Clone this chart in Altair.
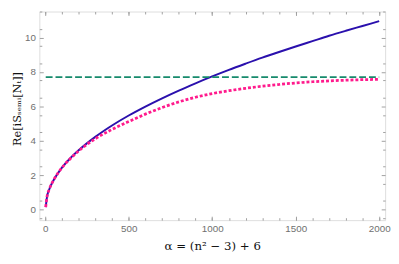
import altair as alt
import pandas as pd

# alpha grid and read-off values
alpha = [3, 10, 25, 50, 100, 150, 200, 300, 400, 500, 600, 700, 800, 900, 1000,
         1100, 1200, 1300, 1400, 1500, 1600, 1700, 1800, 1900, 2000]
blue = [0.15, 0.70, 1.20, 1.71, 2.44, 2.99, 3.45, 4.23, 4.89, 5.47, 5.99, 6.47, 6.92, 7.34, 7.74,
        8.12, 8.48, 8.83, 9.16, 9.48, 9.79, 10.10, 10.39, 10.67, 10.95]
pink = [0.15, 0.70, 1.20, 1.71, 2.43, 2.96, 3.41, 4.12, 4.66, 5.12, 5.55, 5.93, 6.26, 6.53, 6.74,
        6.91, 7.05, 7.17, 7.27, 7.36, 7.43, 7.48, 7.52, 7.55, 7.57]
plateau_alpha = [3, 2000]
plateau = [7.7, 7.7]

x_major = [0, 500, 1000, 1500, 2000]
x_minor = list(range(0, 2001, 100))
y_major = [0, 2, 4, 6, 8, 10]
y_minor = [i * 0.5 for i in range(-1, 24)]

df = pd.DataFrame({"alpha": alpha, "blue": blue, "pink": pink})
dfp = pd.DataFrame({"alpha": plateau_alpha, "v": plateau})

XDOM = [-35.2, 2035.5]
YDOM = [-0.61, 11.51]
FR = "#a0a0a0"
LAB = "#707070"
SERIF = "DejaVu Serif, DejaVu Sans"


def xaxis(orient, values, size, labels, title=None):
    kw = dict(orient=orient, values=values, tickSize=size, offset=-size, domain=False,
              grid=False, labels=labels, tickColor=FR, tickWidth=1, format="d",
              labelFont="Liberation Sans", labelFontSize=10, labelColor=LAB,
              labelPadding=4 if labels else 0)
    if title:
        kw.update(title=title, titleFont=SERIF, titleFontSize=12,
                  titleFontWeight="normal", titleColor="#111", titlePadding=7)
    else:
        kw.update(title=None)
    return alt.Axis(**kw)


def yaxis(orient, values, size, labels, title=None):
    kw = dict(orient=orient, values=values, tickSize=size, offset=-size, domain=False,
              grid=False, labels=labels, tickColor=FR, tickWidth=1, format="d",
              labelFont="Liberation Sans", labelFontSize=10, labelColor=LAB,
              labelPadding=4 if labels else 0)
    if title:
        kw.update(title=title, titleFont=SERIF, titleFontSize=11.5,
                  titleFontWeight="normal", titleColor="#111", titlePadding=2,
                  titleY=99)
    else:
        kw.update(title=None)
    return alt.Axis(**kw)


xs = alt.Scale(domain=XDOM, nice=False, zero=False)
ys = alt.Scale(domain=YDOM, nice=False, zero=False)

base = alt.Chart(df)

blue_l = base.mark_line(color="#2a10ad", strokeWidth=2, interpolate="monotone").encode(
    x=alt.X("alpha:Q", scale=xs, axis=xaxis("bottom", x_major, 4, True, "α = (n² − 3) + 6")),
    y=alt.Y("blue:Q", scale=ys, axis=yaxis("left", y_major, 4, True, "Re[iSₛₑₘᵢ[Nₜ]]")),
)
pink_l = base.mark_line(color="#ff1a8c", strokeWidth=2.8, strokeDash=[3, 2],
                        interpolate="monotone").encode(
    x=alt.X("alpha:Q", scale=xs, axis=xaxis("top", x_major, 4, False)),
    y=alt.Y("pink:Q", scale=ys, axis=yaxis("right", y_major, 4, False)),
)
minor1 = base.mark_line(opacity=0).encode(
    x=alt.X("alpha:Q", scale=xs, axis=xaxis("bottom", x_minor, 2.5, False)),
    y=alt.Y("blue:Q", scale=ys, axis=yaxis("left", y_minor, 2.5, False)),
)
minor2 = base.mark_line(opacity=0).encode(
    x=alt.X("alpha:Q", scale=xs, axis=xaxis("top", x_minor, 2.5, False)),
    y=alt.Y("blue:Q", scale=ys, axis=yaxis("right", y_minor, 2.5, False)),
)
green_l = alt.Chart(dfp).mark_line(color="#168a6c", strokeWidth=2, strokeDash=[7, 3]).encode(
    x=alt.X("alpha:Q", scale=xs, axis=None),
    y=alt.Y("v:Q", scale=ys, axis=None),
)

chart = alt.layer(minor1, minor2, blue_l, pink_l, green_l).resolve_axis(
    x="independent", y="independent"
).properties(
    width=353, height=213,
    autosize=alt.AutoSizeParams(type="none"),
    padding={"left": 32, "top": 1, "right": 6, "bottom": 34},
).configure_view(stroke=FR, strokeWidth=1).configure(background="white")

chart.save("out.html", embed_options={"renderer": "svg", "actions": False})
